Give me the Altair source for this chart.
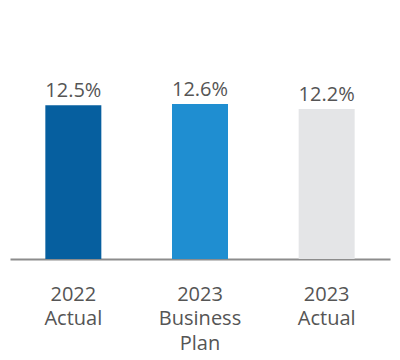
import altair as alt
import pandas as pd

categories = ["2022 Actual", "2023 Business Plan", "2023 Actual"]
values = [12.5, 12.6, 12.2]
colors = ["#065f9f", "#1f8ed1", "#e4e5e7"]

df = pd.DataFrame({"cat": categories, "val": values, "color": colors})
df["label"] = df["val"].map(lambda v: f"{v:.1f}%")

x = alt.X("cat:N", sort=None, title=None,
          scale=alt.Scale(paddingInner=0, paddingOuter=0),
          axis=alt.Axis(labelExpr="split(datum.label, ' ')", labelAngle=0,
                        labelFont="Open Sans", labelFontSize=20, labelColor="#555555",
                        labelLineHeight=24.5, labelPadding=25, labelBaseline="top",
                        ticks=False, domainColor="#8c8c8c", domainWidth=2,
                        grid=False))
y = alt.Y("val:Q", scale=alt.Scale(domain=[0, 20.4], nice=False, zero=True), axis=None)

bars = alt.Chart(df).mark_bar(size=56).encode(
    x=x, y=y, color=alt.Color("color:N", scale=None))
text = alt.Chart(df).mark_text(baseline="bottom", dy=-4, font="Open Sans",
                               fontSize=20, color="#555555").encode(
    x=alt.X("cat:N", sort=None), y="val:Q", text="label:N")

chart = alt.layer(bars, text).properties(
    width=380, height=251,
    padding={"left": 2, "top": 0, "right": 2, "bottom": 12}
).configure_view(stroke=None)

chart.save("out.html", embed_options={"renderer": "svg", "actions": False})
